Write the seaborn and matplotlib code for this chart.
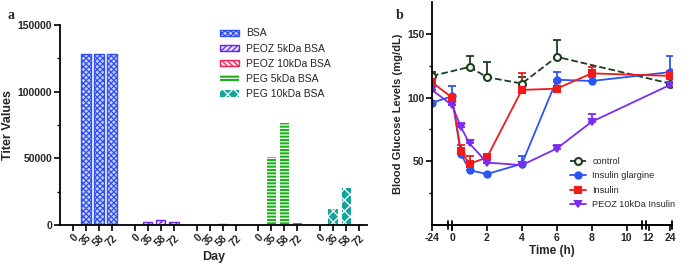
import matplotlib
matplotlib.use('Agg')
import matplotlib.pyplot as plt
import numpy as np
import pandas as pd
import seaborn as sns

sns.set_theme(style='ticks')
plt.rcParams['font.family'] = ['Liberation Sans', 'DejaVu Sans']
plt.rcParams['hatch.linewidth'] = 0.9

# ---- panel a data: antibody titers ----
GROUPS = ['BSA', 'PEOZ 5kDa BSA', 'PEOZ 10kDa BSA', 'PEG 5kDa BSA', 'PEG 10kDa BSA']
DAYS = ['0', '35', '58', '72']
TITER_BSA = [0, 128000, 128000, 128000]
TITER_PEOZ5 = [0, 2000, 4000, 2500]
TITER_PEOZ10 = [0, 0, 1000, 300]
TITER_PEG5 = [0, 51200, 76800, 1600]
TITER_PEG10 = [0, 12000, 27500, 0]
BAR_COLORS = ['#2f4ff2', '#6a22ee', '#f0245a', '#16b216', '#14a49a']
BAR_FACES = ['#c8d2ff', '#e6dcff', '#ffdde6', '#16b216', '#14a49a']
HATCH_COLORS = ['#2f4ff2', '#6a22ee', '#f0245a', 'white', 'white']
BAR_HATCHES = ['xxxxxx', '//////', '\\\\\\\\\\\\', '-----', 'xxx']

# ---- panel b data: blood glucose (mg/dL) ----
T_CONTROL = [-24, 1, 2, 4, 6, 24]
BG_CONTROL = [117, 124, 116, 111, 132, 111]
ERR_CONTROL = [3, 9, 12, 5, 13, 1]
T_TREAT = [-24, 0, 0.5, 1, 2, 4, 6, 8, 24]
BG_GLARGINE = [96, 101, 56, 43, 40, 48, 114, 113, 120]
ERR_GLARGINE = [0, 8, 0, 0, 0, 6, 6, 3, 13]
BG_INSULIN = [112, 100, 58, 48, 53, 106, 107, 119, 117]
ERR_INSULIN = [0, 0, 5, 6, 3, 13, 5, 5, 4]
BG_PEOZ = [106, 94, 77, 64, 49, 47, 60, 81, 110]
ERR_PEOZ = [0, 0, 3, 3, 0, 0, 3, 6, 0]
TIME_TICKS = [-24, 0, 2, 4, 6, 8, 10, 12, 24]

# broken time axis: knots of a piecewise-linear scale
T_KNOTS = np.array([-24, 0, 10, 12, 24], dtype=float)
P_KNOTS = np.array([-1.15, 0, 10, 11.26, 12.5])


def _extend(x, y):
    lo = y[0] - (y[1] - y[0]) / (x[1] - x[0]) * 1000
    hi = y[-1] + (y[-1] - y[-2]) / (x[-1] - x[-2]) * 1000
    return np.r_[x[0] - 1000, x, x[-1] + 1000], np.r_[lo, y, hi]


TX, PX = _extend(T_KNOTS, P_KNOTS)


def fwd(t):
    return np.interp(t, TX, PX)


def inv(p):
    return np.interp(p, PX, TX)


bold = {'fontweight': 'bold'}
fig = plt.figure(figsize=(6.85, 2.69), dpi=100)
ax_a = fig.add_axes([60 / 685, 44 / 269, 307 / 685, 200 / 269])
ax_b = fig.add_axes([432 / 685, 44 / 269, 240 / 685, 223 / 269])

# ---- panel a ----
titers = [TITER_BSA, TITER_PEOZ5, TITER_PEOZ10, TITER_PEG5, TITER_PEG10]
rows = []
for g, (group, vals) in enumerate(zip(GROUPS, titers)):
    for d, (day, v) in enumerate(zip(DAYS, vals)):
        rows.append({'group': group, 'day': day, 'titer': v, 'pos': g * 4.75 + d})
df = pd.DataFrame(rows)

sns.barplot(data=df, x='pos', y='titer', hue='group', hue_order=GROUPS, native_scale=True,
            dodge=False, width=0.72, palette=BAR_COLORS, legend=False, ax=ax_a)
for cont, color, face, hcol, hatch in zip(ax_a.containers, BAR_COLORS, BAR_FACES,
                                          HATCH_COLORS, BAR_HATCHES):
    for bar in cont:
        bar.set_facecolor(face)
        bar.set_hatch(hatch)
        if hcol == 'white':
            # hatch colour follows the edge colour: white hatch on a solid fill
            bar.set_edgecolor('white')
            bar.set_linewidth(0)
        else:
            bar.set_edgecolor(color)
            bar.set_linewidth(1.0)
ax_a.legend(ax_a.containers, GROUPS, loc='upper left', bbox_to_anchor=(0.49, 1.03), frameon=False,
            fontsize=7.5, handlelength=1.8, handleheight=0.55, labelspacing=0.5, handletextpad=0.7)

ax_a.set_xlim(-1.0, 22.6)
ax_a.set_ylim(0, 150000)
ax_a.set_xticks(df['pos'])
ax_a.set_xticklabels(df['day'], rotation=45, ha='right', rotation_mode='anchor', fontsize=7.5, **bold)
ax_a.set_yticks([0, 50000, 100000, 150000])
ax_a.set_yticks([25000, 75000, 125000], minor=True)
ax_a.tick_params(axis='y', labelsize=7.5)
for lab in ax_a.get_yticklabels():
    lab.set_fontweight('bold')
ax_a.set_xlabel('Day', fontsize=9, labelpad=2, **bold)
ax_a.set_ylabel('Titer Values', fontsize=9, labelpad=3, **bold)
ax_a.text(-0.17, 1.05, 'a', transform=ax_a.transAxes, fontsize=10, family='Liberation Serif',
          fontweight='bold', va='center')

# ---- panel b ----
series = [
    ('control', T_CONTROL, BG_CONTROL, ERR_CONTROL, '#1d3f1d', 'o', '--'),
    ('Insulin glargine', T_TREAT, BG_GLARGINE, ERR_GLARGINE, '#2a55f2', 'o', '-'),
    ('Insulin', T_TREAT, BG_INSULIN, ERR_INSULIN, '#f21a1a', 's', '-'),
    ('PEOZ 10kDa Insulin', T_TREAT, BG_PEOZ, ERR_PEOZ, '#7b2cf0', 'v', '-'),
]
for label, t, bg, err, color, marker, ls in series:
    ax_b.errorbar(t, bg, yerr=[np.zeros(len(err)), err], fmt='none', ecolor=color,
                  elinewidth=1.3, capsize=3, capthick=1.3, zorder=1.5)
    face = 'white' if label == 'control' else color
    sns.lineplot(x=t, y=bg, color=color, marker=marker, linestyle=ls, linewidth=1.3,
                 markersize=5 if label == 'control' else 4.5, mec=color, mfc=face, mew=1.5,
                 label=label, ax=ax_b)

ax_b.set_xscale('function', functions=(fwd, inv))
ax_b.set_xlim(-24, 25)
ax_b.set_ylim(0, 175)
ax_b.set_xticks(TIME_TICKS)
ax_b.set_xticklabels([str(v) for v in TIME_TICKS], fontsize=7.5, **bold)
ax_b.set_yticks([50, 100, 150])
ax_b.set_yticks([25, 75, 125], minor=True)
ax_b.tick_params(axis='y', labelsize=7.5)
for lab in ax_b.get_yticklabels():
    lab.set_fontweight('bold')
ax_b.set_xlabel('Time (h)', fontsize=8.5, labelpad=2, **bold)
ax_b.set_ylabel('Blood Glucose Levels (mg/dL)', fontsize=8, labelpad=3, **bold)
ax_b.legend(loc='upper left', bbox_to_anchor=(0.55, 0.33), frameon=False, fontsize=6.6,
            handlelength=1.8, labelspacing=0.6, handletextpad=0.7, borderaxespad=0.2)
ax_b.text(-0.15, 0.94, 'b', transform=ax_b.transAxes, fontsize=10, family='Liberation Serif',
          fontweight='bold', va='center')

# broken bottom axis drawn as three segments
ax_b.spines['bottom'].set_visible(False)
xform = ax_b.get_xaxis_transform()
for p0, p1 in [(-1.15, -0.25), (0.0, 10.9), (11.13, 12.6)]:
    t0, t1 = inv(p0), inv(p1)
    ax_b.plot([t0, t1], [0, 0], color='black', lw=1.3, transform=xform, clip_on=False)
    for tt in (t0, t1):
        if tt > -23:
            ax_b.plot([tt, tt], [-0.02, 0.02], color='black', lw=1.3, transform=xform, clip_on=False)

for ax in (ax_a, ax_b):
    sns.despine(ax=ax)
    for side in ('left', 'bottom'):
        ax.spines[side].set_linewidth(1.3)
        ax.spines[side].set_color('black')
    ax.tick_params(which='major', length=4, width=1.2, pad=1.5, color='black')
    ax.tick_params(which='minor', length=2.5, width=1.0, color='black')

fig.savefig('out.png', dpi=100)
